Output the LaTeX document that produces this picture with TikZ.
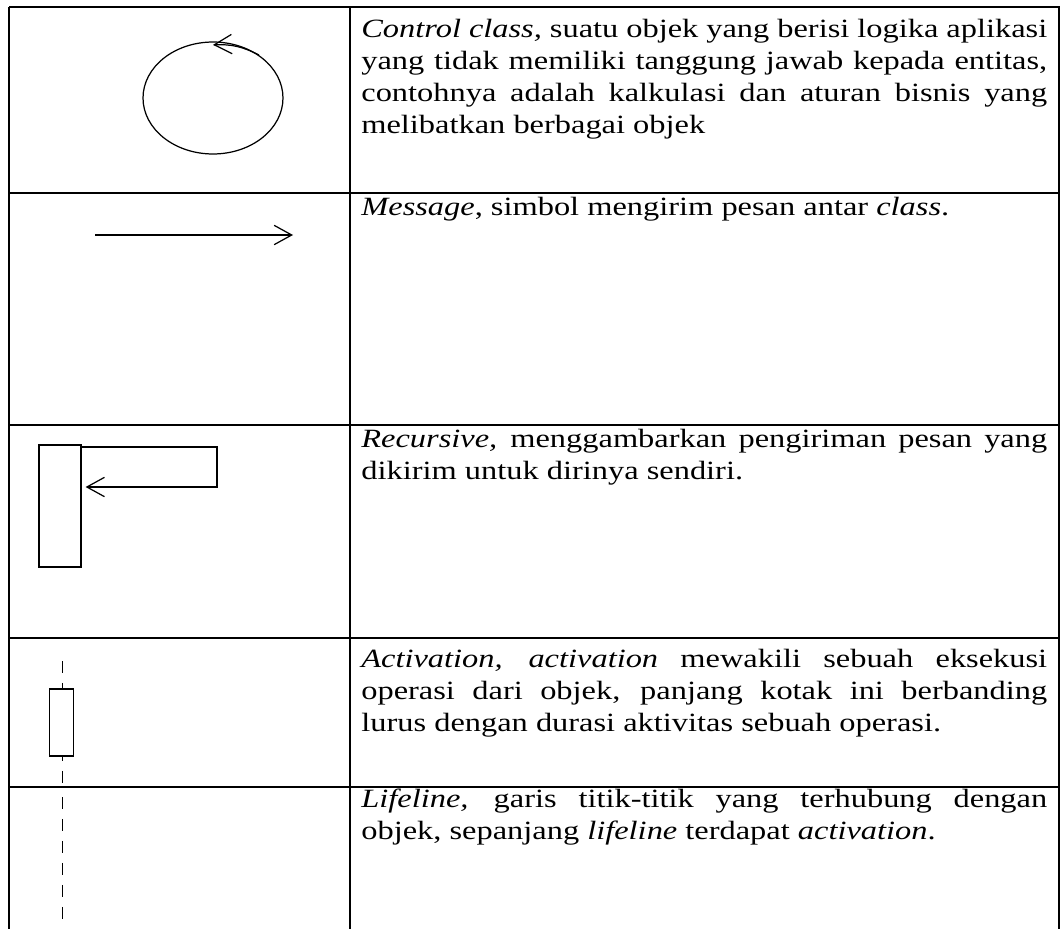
\documentclass[tikz,border=0pt]{standalone}
\usepackage{fontspec}
\setmainfont{Liberation Serif}[FakeStretch=1.23]
\usetikzlibrary{arrows.meta}
\usetikzlibrary{shapes.geometric}

\tikzset{
  garis/.style={line width=0.9pt},
  simbol/.style={line width=0.7pt},
  pesan/.style={simbol, -{Straight Barb[length=10pt,width=11pt]}},
  putus/.style={simbol, dash pattern=on 7pt off 5.5pt},
  keterangan/.style={anchor=north west, inner sep=0pt, text width=13.72cm,
    align=justify, font={\fontsize{15}{18.2}\selectfont\tolerance=10000\relax\hyphenpenalty=10000\relax}},
}

\begin{document}
\begin{tikzpicture}[x=0.02cm, y=-0.02cm]

\useasboundingbox (0,0) rectangle (1060,929);

% tabel
\foreach \y in {7,193,425,638,787}
  \draw[garis] (9,\y) -- (1060,\y);
\foreach \x in {9,350,1059}
  \draw[garis] (\x,7) -- (\x,929);

% control class
\node[simbol, draw, ellipse, minimum width=2.8cm, minimum height=2.24cm, inner sep=0pt] (kontrol) at (213,98) {};
\draw[pesan] (kontrol.43) to[bend right=15] ([yshift=-0.07cm]kontrol.north);

% message
\coordinate (pesanA) at (95,235);
\coordinate (pesanB) at (293,235);
\draw[pesan] (pesanA) -- (pesanB);

% recursive
\node[simbol, draw, minimum width=0.84cm, minimum height=2.44cm, inner sep=0pt] (aktif) at (60,506) {};
\coordinate (balikA) at (217,447);
\coordinate (balikB) at (217,487);
\draw[pesan] (aktif.east |- balikA) -- (balikA) -- (balikB) -- ([xshift=0.08cm]aktif.east |- balikB);

% activation
\coordinate (garisA) at (62.5,661);
\coordinate (garisB) at (62.5,787);
\draw[putus] (garisA) -- (garisB);
\node[simbol, draw, fill=white, minimum width=0.48cm, minimum height=1.34cm, inner sep=0pt] (kotak) at (61.5,722.5) {};

% lifeline
\coordinate (hidupA) at (62.5,797);
\coordinate (hidupB) at (62.5,922);
\draw[putus] (hidupA) -- (hidupB);

% keterangan
\node[keterangan] (teks1) at (361,14.9) {\strut\textit{Control class,} suatu objek yang berisi logika aplikasi\linebreak yang tidak memiliki tanggung jawab kepada entitas,\linebreak contohnya adalah kalkulasi dan aturan bisnis yang\linebreak melibatkan berbagai objek};
\node[keterangan] (teks2) at (361,192.6) {\strut\textit{Message}, simbol mengirim pesan antar \textit{class}.};
\node[keterangan] (teks3) at (361,424.6) {\strut\textit{Recursive,} menggambarkan pengiriman pesan yang\linebreak dikirim untuk dirinya sendiri.};
\node[keterangan] (teks4) at (361,644.6) {\strut\textit{Activation, activation} mewakili sebuah eksekusi\linebreak operasi dari objek, panjang kotak ini berbanding\linebreak lurus dengan durasi aktivitas sebuah operasi.};
\node[keterangan] (teks5) at (361,784.6) {\strut\textit{Lifeline,} garis titik-titik yang terhubung dengan\linebreak objek, sepanjang \textit{lifeline} terdapat \textit{activation}.};

\end{tikzpicture}
\end{document}
